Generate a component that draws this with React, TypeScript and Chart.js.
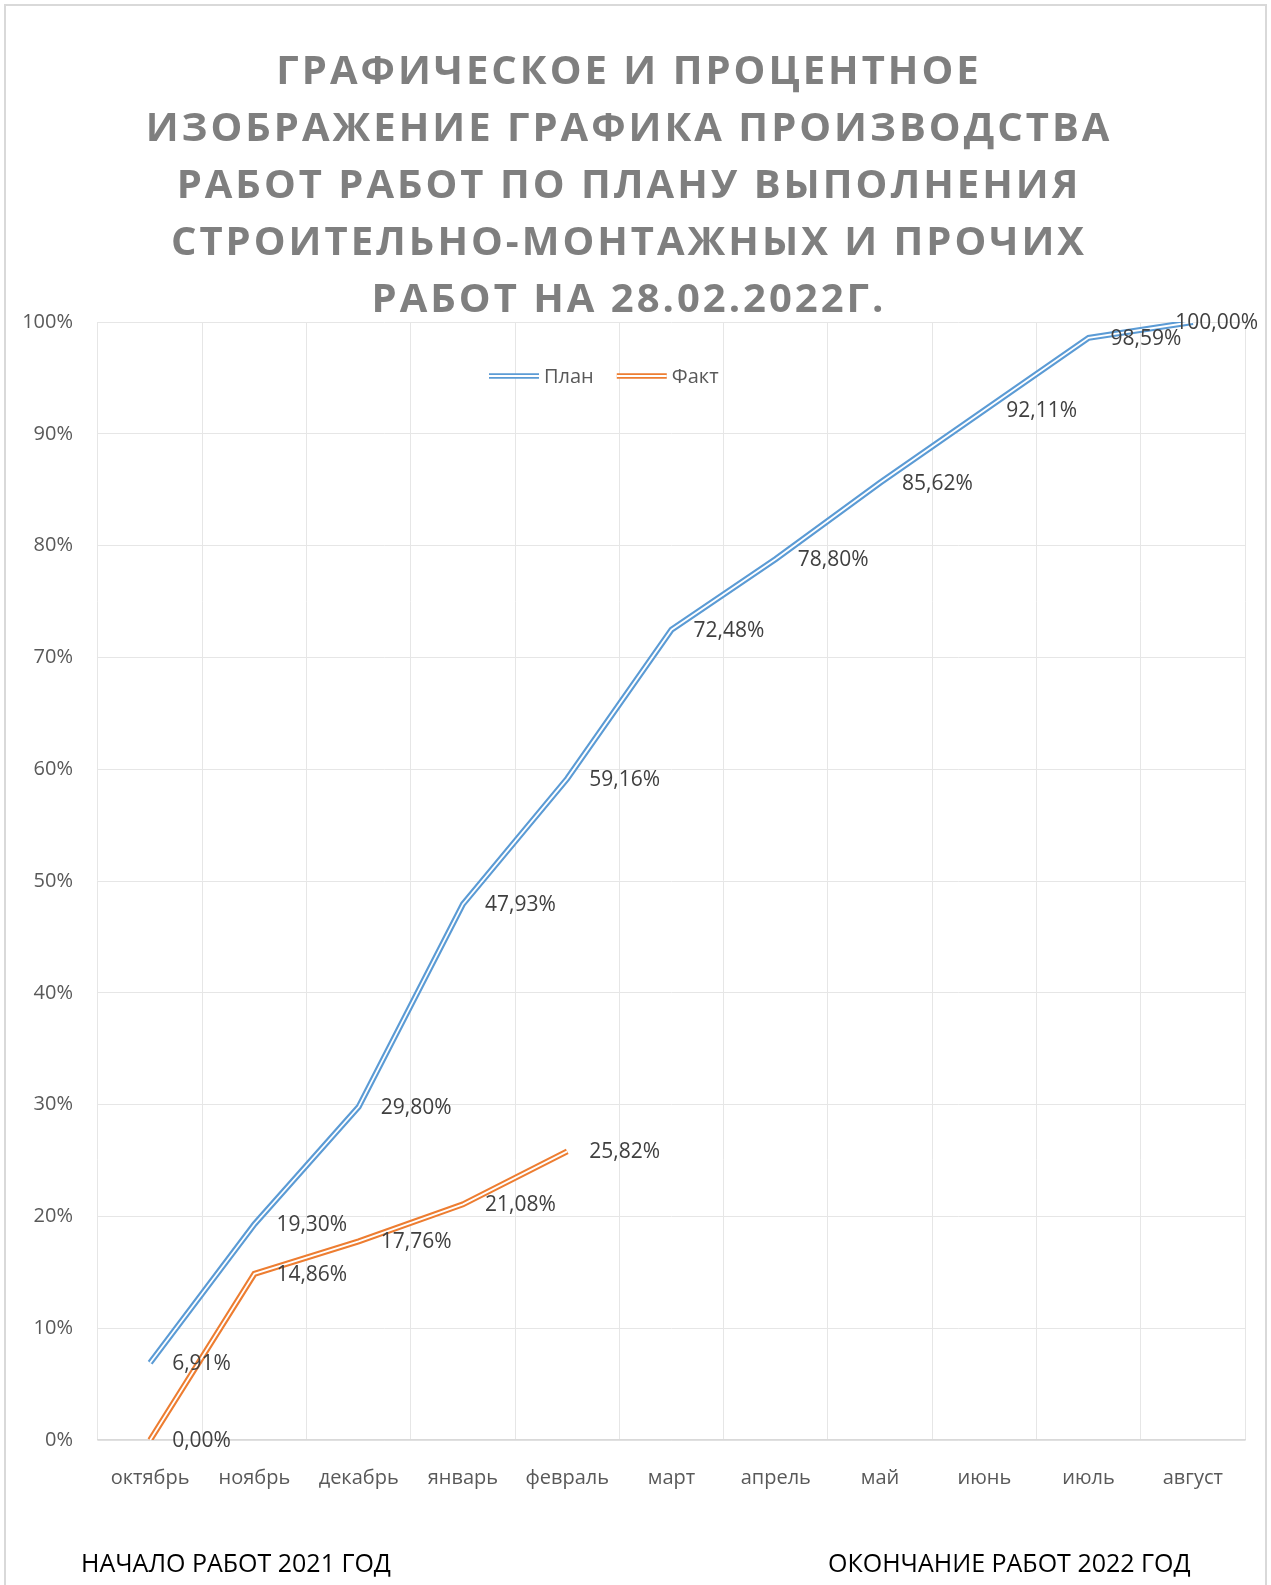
import React, { useEffect, useRef } from "react";
import { Chart, registerables } from "chart.js";

Chart.register(...registerables);

const categories = ["октябрь", "ноябрь", "декабрь", "январь", "февраль", "март", "апрель", "май", "июнь", "июль", "август"];
const planValues = [6.91, 19.30, 29.80, 47.93, 59.16, 72.48, 78.80, 85.62, 92.11, 98.59, 100.00];
const factValues = [0.00, 14.86, 17.76, 21.08, 25.82];
const titleLines = [
  "ГРАФИЧЕСКОЕ И ПРОЦЕНТНОЕ",
  "ИЗОБРАЖЕНИЕ ГРАФИКА ПРОИЗВОДСТВА",
  "РАБОТ РАБОТ ПО ПЛАНУ ВЫПОЛНЕНИЯ",
  "СТРОИТЕЛЬНО-МОНТАЖНЫХ И ПРОЧИХ",
  "РАБОТ НА 28.02.2022Г.",
];
const footerLeft = "НАЧАЛО РАБОТ 2021 ГОД";
const footerRight = "ОКОНЧАНИЕ РАБОТ 2022 ГОД";
const seriesNames = ["План", "Факт"];

const W = 1271;
const H = 1585;
const FONT = "'Open Sans', 'Noto Sans', sans-serif";
const BLUE = "#5b9bd5";
const ORANGE = "#ed7d31";

const fmt = (v: number) => v.toFixed(2).replace(".", ",") + "%";

const decorPlugin = {
  id: "decor",
  beforeDraw(chart: any) {
    const ctx = chart.ctx;
    ctx.save();
    ctx.fillStyle = "#ffffff";
    ctx.fillRect(0, 0, W, H);
    ctx.strokeStyle = "#d9d9d9";
    ctx.lineWidth = 2;
    ctx.strokeRect(5, 5, W - 10, H + 20);
    ctx.restore();
  },
  afterDatasetDraw(chart: any, args: any) {
    const meta = args.meta;
    const pts = meta.data;
    if (!pts || pts.length < 2) return;
    const ctx = chart.ctx;
    ctx.save();
    ctx.beginPath();
    pts.forEach((p: any, i: number) => {
      if (i === 0) ctx.moveTo(p.x, p.y);
      else ctx.lineTo(p.x, p.y);
    });
    ctx.strokeStyle = "#ffffff";
    ctx.lineWidth = 1.8;
    ctx.lineJoin = "miter";
    ctx.lineCap = "butt";
    ctx.stroke();
    ctx.restore();
  },
  afterDraw(chart: any) {
    const ctx = chart.ctx;
    const area = chart.chartArea;
    ctx.save();
    // data labels
    ctx.font = `21px ${FONT}`;
    ctx.fillStyle = "#404040";
    ctx.textBaseline = "middle";
    ctx.textAlign = "left";
    chart.data.datasets.forEach((ds: any, di: number) => {
      const meta = chart.getDatasetMeta(di);
      meta.data.forEach((p: any, i: number) => {
        const txt = fmt(ds.data[i]);
        const w = ctx.measureText(txt).width;
        let x = p.x + 22;
        if (x + w > W - 13) x = W - 13 - w;
        ctx.fillText(txt, x, p.y + 1);
      });
    });
    // legend
    const legY = area.top + 54;
    const items = [
      { name: seriesNames[0], color: BLUE },
      { name: seriesNames[1], color: ORANGE },
    ];
    ctx.font = `20px ${FONT}`;
    let x = area.left + 391;
    items.forEach((it) => {
      ctx.strokeStyle = it.color;
      ctx.lineWidth = 5.5;
      ctx.beginPath();
      ctx.moveTo(x, legY);
      ctx.lineTo(x + 50, legY);
      ctx.stroke();
      ctx.strokeStyle = "#ffffff";
      ctx.lineWidth = 1.8;
      ctx.beginPath();
      ctx.moveTo(x, legY);
      ctx.lineTo(x + 50, legY);
      ctx.stroke();
      ctx.fillStyle = "#595959";
      ctx.fillText(it.name, x + 55, legY + 1);
      x += 55 + ctx.measureText(it.name).width + 23;
    });
    // title
    ctx.font = `bold 40px ${FONT}`;
    (ctx as any).letterSpacing = "3px";
    ctx.fillStyle = "#7f7f7f";
    ctx.textAlign = "center";
    ctx.textBaseline = "middle";
    titleLines.forEach((line, i) => {
      ctx.fillText(line, 629, 73 + i * 57);
    });
    (ctx as any).letterSpacing = "0px";
    // footer
    ctx.font = `25px ${FONT}`;
    ctx.fillStyle = "#000000";
    ctx.textAlign = "left";
    ctx.fillText(footerLeft, 81, 1565);
    ctx.fillText(footerRight, 828, 1565);
    ctx.restore();
  },
};

export default function App() {
  const ref = useRef<HTMLCanvasElement | null>(null);
  useEffect(() => {
    if (!ref.current) return;
    const chart = new Chart(ref.current, {
      type: "line",
      data: {
        labels: categories,
        datasets: [
          {
            label: seriesNames[0],
            data: planValues,
            borderColor: BLUE,
            borderWidth: 6,
            pointRadius: 0,
            tension: 0,
            borderJoinStyle: "miter",
            borderCapStyle: "butt",
            fill: false,
          },
          {
            label: seriesNames[1],
            data: factValues,
            borderColor: ORANGE,
            borderWidth: 6,
            pointRadius: 0,
            tension: 0,
            borderJoinStyle: "miter",
            borderCapStyle: "butt",
            fill: false,
          },
        ],
      },
      options: {
        responsive: false,
        animation: false,
        devicePixelRatio: 1,
        layout: { padding: { top: 322, right: 26, left: 0, bottom: 0 } },
        plugins: {
          legend: { display: false },
          title: { display: false },
          tooltip: { enabled: false },
        },
        scales: {
          x: {
            offset: true,
            grid: { color: "#e6e6e6", lineWidth: 1, offset: true, drawTicks: false },
            border: { color: "#d9d9d9", width: 1.5 },
            ticks: { color: "#595959", font: { family: FONT, size: 20 }, padding: 26, maxRotation: 0 },
            afterFit: (s: any) => { s.height = 145; },
          },
          y: {
            min: 0,
            max: 100,
            grid: { color: "#e6e6e6", lineWidth: 1, drawTicks: false },
            border: { display: false },
            ticks: {
              stepSize: 10,
              color: "#595959",
              font: { family: FONT, size: 20 },
              padding: 25,
              callback: (v: any) => v + "%",
            },
            afterFit: (s: any) => { s.width = 98; },
          },
        },
      },
      plugins: [decorPlugin],
    } as any);
    return () => chart.destroy();
  }, []);
  return (
    <div style={{ position: "absolute", left: 0, top: 0, width: W, height: H, background: "#fff" }}>
      <canvas ref={ref} width={W} height={H} style={{ width: W, height: H, display: "block" }} />
    </div>
  );
}
